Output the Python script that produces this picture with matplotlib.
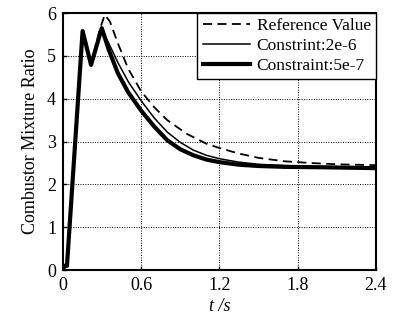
import matplotlib
matplotlib.use("Agg")
import matplotlib.pyplot as plt

plt.rcParams["font.family"] = ["Liberation Serif", "DejaVu Serif"]

# ---- data ----
t_ref = [0.0, 0.01, 0.03, 0.15, 0.215, 0.28, 0.32, 0.36, 0.42, 0.5, 0.6, 0.7, 0.8,
         0.95, 1.1, 1.2, 1.35, 1.5, 1.7, 1.9, 2.1, 2.4]
y_ref = [0.0, 0.1, 0.1, 5.58, 4.79, 5.6, 5.96, 5.8, 5.3, 4.7, 4.17, 3.8, 3.5,
         3.18, 2.95, 2.85, 2.72, 2.62, 2.54, 2.5, 2.47, 2.45]

t_2e6 = [0.0, 0.01, 0.03, 0.15, 0.215, 0.297, 0.35, 0.42, 0.5, 0.6, 0.7, 0.8,
         0.9, 1.0, 1.1, 1.2, 1.35, 1.5, 1.7, 2.0, 2.4]
y_2e6 = [0.0, 0.1, 0.1, 5.58, 4.79, 5.62, 5.3, 4.85, 4.4, 3.95, 3.55, 3.22,
         2.98, 2.8, 2.68, 2.6, 2.52, 2.47, 2.44, 2.41, 2.4]

t_5e7 = [0.0, 0.01, 0.03, 0.15, 0.215, 0.297, 0.35, 0.42, 0.5, 0.6, 0.7, 0.8,
         0.9, 1.0, 1.1, 1.2, 1.35, 1.5, 1.7, 2.0, 2.4]
y_5e7 = [0.0, 0.1, 0.1, 5.58, 4.79, 5.65, 5.15, 4.6, 4.15, 3.72, 3.35, 3.03,
         2.82, 2.68, 2.58, 2.52, 2.46, 2.43, 2.41, 2.4, 2.38]

x_ticks = [0, 0.6, 1.2, 1.8, 2.4]
x_ticklabels = ["0", "0.6", "1.2", "1.8", "2.4"]
y_ticks = [0, 1, 2, 3, 4, 5, 6]

fig = plt.figure(figsize=(3.99, 3.27), dpi=100)
ax = fig.add_axes([0.158, 0.174, 0.784, 0.786])

ax.plot(t_ref, y_ref, color="black", lw=1.3, ls=(0, (5, 3)), label="Reference Value")
ax.plot(t_5e7, y_5e7, color="black", lw=3.0, label="Constraint:5e-7")
ax.plot(t_2e6, y_2e6, color="black", lw=1.1, label="Constrint:2e-6")

ax.set_xlim(0, 2.4)
ax.set_ylim(0, 6)
ax.set_xticks(x_ticks)
ax.set_xticklabels(x_ticklabels)
ax.set_yticks(y_ticks)
ax.tick_params(direction="in", labelsize=13, length=3, width=1, pad=5)
ax.grid(True, color="black", ls=(0, (1, 1.5)), lw=0.7)
for s in ax.spines.values():
    s.set_linewidth(1.5)

ax.set_xlabel("t /s", fontsize=13, fontstyle="italic", labelpad=3)
ax.set_ylabel("Combustor Mixture Ratio", fontsize=13, labelpad=6)

h, l = ax.get_legend_handles_labels()
order = [0, 2, 1]
leg = ax.legend([h[i] for i in order], [l[i] for i in order], loc="upper right",
                borderaxespad=0, fancybox=False, framealpha=1, edgecolor="black",
                fontsize=12.5, handlelength=2.7, handletextpad=0.4, labelspacing=0.2,
                borderpad=0.3)
leg.get_frame().set_linewidth(1.0)

fig.savefig("out.png", dpi=100)
